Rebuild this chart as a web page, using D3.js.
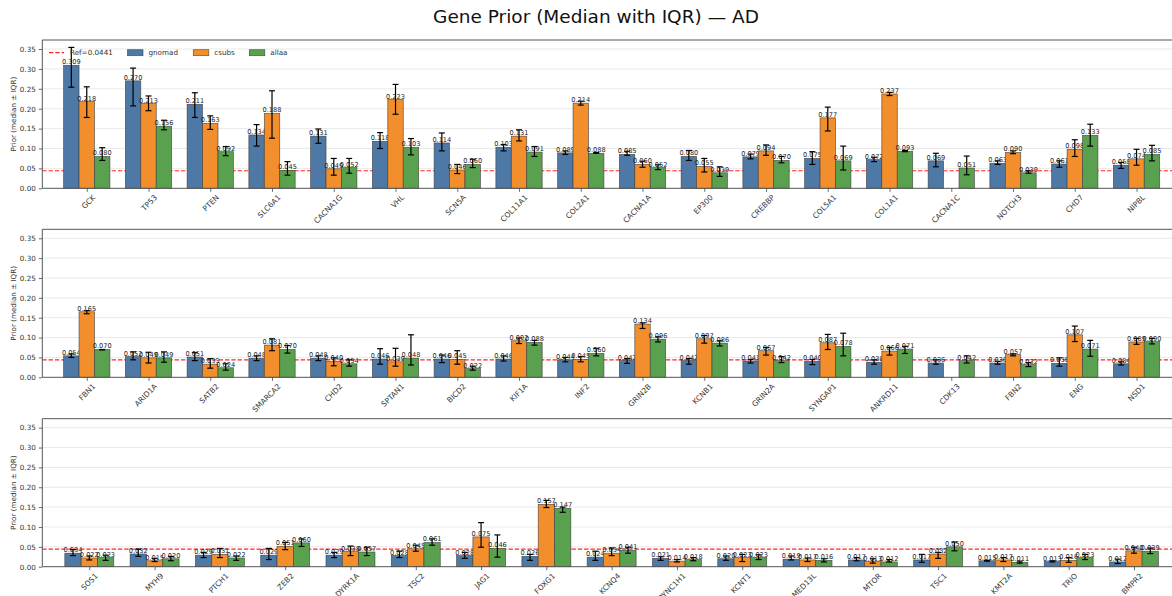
<!DOCTYPE html>
<html>
<head>
<meta charset="utf-8">
<script src="https://cdn.jsdelivr.net/npm/d3@7"></script>
<style>
  html, body { margin: 0; padding: 0; background: #fff; }
  svg { display: block; font-family: "DejaVu Sans", sans-serif; }
</style>
</head>
<body>
<svg id="chart" width="1172" height="596"></svg>
<script>
// Gene order per panel
const genesA = ["GCK","TP53","PTEN","SLC6A1","CACNA1G","VHL","SCN5A","COL11A1","COL2A1","CACNA1A","EP300","CREBBP","COL5A1","COL1A1","CACNA1C","NOTCH3","CHD7","NIPBL"];
const genesB = ["FBN1","ARID1A","SATB2","SMARCA2","CHD2","SPTAN1","BICD2","KIF1A","INF2","GRIN2B","KCNB1","GRIN2A","SYNGAP1","ANKRD11","CDK13","FBN2","ENG","NSD1"];
const genesC = ["SOS1","MYH9","PTCH1","ZEB2","DYRK1A","TSC2","JAG1","FOXG1","KCNQ4","DYNC1H1","KCNT1","MED13L","MTOR","TSC1","KMT2A","TRIO","BMPR2"];

const sources = ["gnomad", "csubs", "allaa"];
const refValue = 0.0441;
const yTicks = [0, 0.05, 0.10, 0.15, 0.20, 0.25, 0.30, 0.35];

// Medians per source, panel A
const gnomadA = [0.309,0.270,0.211,0.134,0.131,0.118,0.114,0.103,0.089,0.085,0.080,0.079,0.075,0.072,0.069,0.063,0.061,0.058];
const csubsA  = [0.218,0.213,0.163,0.188,0.049,0.223,0.046,0.131,0.214,0.060,0.055,0.094,0.177,0.237,null,0.090,0.098,0.074];
const allaaA  = [0.080,0.156,0.092,0.045,0.052,0.103,0.060,0.091,0.088,0.052,0.039,0.070,0.069,0.093,0.051,0.039,0.133,0.085];
// IQR bounds, panel A
const gnomadLoA = [0.254,0.207,0.178,0.106,0.113,0.100,0.094,0.094,0.085,0.083,0.070,0.074,0.060,0.067,0.054,0.060,0.053,0.050];
const gnomadHiA = [0.354,0.302,0.240,0.160,0.149,0.140,0.139,0.110,0.094,0.093,0.095,0.086,0.092,0.078,0.088,0.069,0.069,0.065];
const csubsLoA  = [0.178,0.195,0.148,0.126,0.033,0.186,0.037,0.119,0.209,0.053,0.041,0.083,0.144,0.233,null,0.087,0.080,0.058];
const csubsHiA  = [0.255,0.232,0.182,0.245,0.075,0.261,0.060,0.147,0.219,0.068,0.075,0.109,0.204,0.241,null,0.094,0.122,0.098];
const allaaLoA  = [0.070,0.147,0.082,0.033,0.038,0.084,0.052,0.080,0.088,0.047,0.030,0.064,0.046,0.092,0.034,0.038,0.106,0.069];
const allaaHiA  = [0.102,0.171,0.105,0.067,0.075,0.125,0.073,0.105,0.090,0.059,0.054,0.080,0.106,0.095,0.081,0.044,0.161,0.108];

// Panel B
const gnomadB = [0.054,0.052,0.051,0.048,0.048,0.046,0.046,0.046,0.044,0.042,0.042,0.041,0.040,0.038,0.036,0.036,0.035,0.034];
const csubsB  = [0.165,0.049,0.033,0.081,0.040,0.039,0.045,0.092,0.045,0.134,0.097,0.067,0.087,0.066,null,0.057,0.107,0.089];
const allaaB  = [0.070,0.049,0.024,0.070,0.034,0.048,0.022,0.088,0.060,0.096,0.086,0.042,0.078,0.071,0.042,0.032,0.071,0.090];
const gnomadLoB = [0.050,0.044,0.042,0.042,0.042,0.033,0.037,0.041,0.039,0.035,0.033,0.036,0.032,0.033,0.033,0.033,0.028,0.031];
const gnomadHiB = [0.059,0.064,0.062,0.054,0.054,0.072,0.056,0.054,0.050,0.047,0.047,0.045,0.045,0.044,0.044,0.040,0.049,0.039];
const csubsLoB  = [0.160,0.036,0.023,0.067,0.029,0.028,0.033,0.085,0.039,0.123,0.086,0.056,0.070,0.056,null,0.054,0.090,0.083];
const csubsHiB  = [0.168,0.063,0.047,0.097,0.049,0.073,0.067,0.099,0.052,0.137,0.105,0.075,0.108,0.075,null,0.059,0.129,0.098];
const allaaLoB  = [0.069,0.038,0.018,0.061,0.028,0.031,0.018,0.081,0.054,0.089,0.079,0.037,0.054,0.060,0.036,0.027,0.053,0.084];
const allaaHiB  = [0.070,0.064,0.034,0.080,0.044,0.107,0.028,0.093,0.073,0.102,0.092,0.052,0.111,0.078,0.054,0.037,0.093,0.098];

// Panel C
const gnomadC = [0.034,0.032,0.029,0.029,0.029,0.028,0.028,0.026,0.024,0.021,0.020,0.019,0.017,0.017,0.015,0.013,0.012];
const csubsC  = [0.022,0.015,0.031,0.051,0.038,0.045,0.075,0.157,0.034,0.014,0.023,0.017,0.013,0.032,0.017,0.016,0.040];
const allaaC  = [0.023,0.020,0.022,0.060,0.037,0.061,0.046,0.147,0.041,0.018,0.023,0.016,0.012,0.050,0.011,0.023,0.039];
const gnomadLoC = [0.028,0.026,0.023,0.018,0.023,0.023,0.021,0.016,0.016,0.016,0.016,0.017,0.015,0.011,0.014,0.012,0.008];
const gnomadHiC = [0.043,0.044,0.036,0.046,0.036,0.039,0.036,0.031,0.039,0.025,0.027,0.027,0.023,0.031,0.016,0.015,0.019];
const csubsLoC  = [0.017,0.013,0.023,0.043,0.028,0.039,0.049,0.149,0.028,0.012,0.013,0.013,0.009,0.021,0.013,0.011,0.034];
const csubsHiC  = [0.027,0.021,0.046,0.061,0.052,0.054,0.111,0.167,0.047,0.018,0.031,0.022,0.020,0.036,0.023,0.023,0.049];
const allaaLoC  = [0.016,0.015,0.016,0.051,0.028,0.054,0.024,0.137,0.034,0.015,0.018,0.012,0.012,0.040,0.009,0.018,0.033];
const allaaHiC  = [0.029,0.026,0.027,0.070,0.049,0.070,0.080,0.150,0.049,0.023,0.030,0.020,0.018,0.062,0.014,0.031,0.047];

const colors = { gnomad: "#4e79a7", csubs: "#f28e2b", allaa: "#59a14f" };

const panels = [
  { genes: genesA, top: 40.0, bottom: 188.3, showLegend: true,
    med: [gnomadA, csubsA, allaaA], lo: [gnomadLoA, csubsLoA, allaaLoA], hi: [gnomadHiA, csubsHiA, allaaHiA] },
  { genes: genesB, top: 229.3, bottom: 377.3, showLegend: false,
    med: [gnomadB, csubsB, allaaB], lo: [gnomadLoB, csubsLoB, allaaLoB], hi: [gnomadHiB, csubsHiB, allaaHiB] },
  { genes: genesC, top: 418.7, bottom: 566.7, showLegend: false,
    med: [gnomadC, csubsC, allaaC], lo: [gnomadLoC, csubsLoC, allaaLoC], hi: [gnomadHiC, csubsHiC, allaaHiC] }
];

const svg = d3.select("#chart");
const axLeft = 42.3, axRight = 1181;
const barW = 0.25;

svg.append("text")
  .attr("x", 596).attr("y", 23)
  .attr("text-anchor", "middle")
  .attr("font-size", 18.5)
  .attr("fill", "#111")
  .text("Gene Prior (Median with IQR) \u2014 AD");

panels.forEach(p => {
  const n = p.genes.length;
  const x = d3.scaleLinear().domain([-0.72, n - 0.28]).range([axLeft, axRight]);
  const y = d3.scaleLinear().domain([0, 0.3726]).range([p.bottom, p.top]);
  const g = svg.append("g");

  // horizontal grid
  g.append("g").selectAll("line").data(yTicks.slice(1)).join("line")
    .attr("x1", axLeft).attr("x2", axRight)
    .attr("y1", d => y(d)).attr("y2", d => y(d))
    .attr("stroke", "#e3e3e3").attr("stroke-width", 0.8);

  // reference line
  g.append("line")
    .attr("x1", axLeft).attr("x2", axRight)
    .attr("y1", y(refValue)).attr("y2", y(refValue))
    .attr("stroke", "red").attr("stroke-opacity", 0.85)
    .attr("stroke-width", 1.2).attr("stroke-dasharray", "4.4,1.9");

  // bars, error bars, value labels
  sources.forEach((s, k) => {
    const rows = p.genes.map((gene, i) => ({
      i, gene, v: p.med[k][i], lo: p.lo[k][i], hi: p.hi[k][i]
    })).filter(d => d.v !== null);
    const off = (k - 1) * barW;
    const cx = d => x(d.i + off);
    const bw = x(barW) - x(0);

    g.append("g").selectAll("rect").data(rows).join("rect")
      .attr("x", d => cx(d) - bw / 2)
      .attr("width", bw)
      .attr("y", d => y(d.v))
      .attr("height", d => y(0) - y(d.v))
      .attr("fill", colors[s])
      .attr("stroke", "#3a3a3a").attr("stroke-opacity", 0.8)
      .attr("stroke-width", 0.7);

    const eb = g.append("g").attr("stroke", "#000").attr("stroke-width", 1.2);
    eb.selectAll("line.v").data(rows).join("line").attr("class", "v")
      .attr("x1", cx).attr("x2", cx)
      .attr("y1", d => y(d.lo)).attr("y2", d => y(d.hi));
    eb.selectAll("line.t").data(rows).join("line").attr("class", "t")
      .attr("x1", d => cx(d) - 3).attr("x2", d => cx(d) + 3)
      .attr("y1", d => y(d.hi)).attr("y2", d => y(d.hi));
    eb.selectAll("line.b").data(rows).join("line").attr("class", "b")
      .attr("x1", d => cx(d) - 3).attr("x2", d => cx(d) + 3)
      .attr("y1", d => y(d.lo)).attr("y2", d => y(d.lo));

    g.append("g").selectAll("text").data(rows).join("text")
      .attr("x", cx)
      .attr("y", d => y(d.v) - 1)
      .attr("text-anchor", "middle")
      .attr("font-size", 6.6)
      .attr("fill", "#222")
      .text(d => d.v.toFixed(3));
  });

  // y axis
  const yAxis = g.append("g").attr("transform", `translate(${axLeft},0)`)
    .call(d3.axisLeft(y).tickValues(yTicks).tickFormat(d3.format(".2f")).tickSize(3.5).tickPadding(3));
  yAxis.select(".domain").remove();
  yAxis.selectAll("line").attr("stroke", "#444").attr("stroke-width", 0.8);
  yAxis.selectAll("text").attr("font-size", 7.2).attr("fill", "#333").attr("font-family", "DejaVu Sans");

  // x axis with rotated gene names
  const xAxis = g.append("g").attr("transform", `translate(0,${p.bottom})`)
    .call(d3.axisBottom(x).tickValues(d3.range(n)).tickFormat(i => p.genes[i]).tickSize(3.5));
  xAxis.select(".domain").remove();
  xAxis.selectAll("line").attr("stroke", "#444").attr("stroke-width", 0.8);
  xAxis.selectAll("text")
    .attr("font-size", 7.5).attr("fill", "#333").attr("font-family", "DejaVu Sans")
    .attr("text-anchor", "end")
    .attr("transform", "translate(4,5) rotate(-45)")
    .attr("dy", "0.35em").attr("y", 4).attr("x", 0);

  // frame: left, top, bottom spines
  g.append("path")
    .attr("d", `M${axRight},${p.top}H${axLeft}V${p.bottom}H${axRight}`)
    .attr("fill", "none").attr("stroke", "#555").attr("stroke-width", 1);

  // y axis title
  g.append("text")
    .attr("transform", `translate(16,${(p.top + p.bottom) / 2}) rotate(-90)`)
    .attr("text-anchor", "middle")
    .attr("font-size", 7.2).attr("fill", "#333")
    .text("Prior (median \u00b1 IQR)");

  if (p.showLegend) {
    const ly = 52.7;
    const lg = g.append("g");
    lg.append("line")
      .attr("x1", 49).attr("x2", 64).attr("y1", ly).attr("y2", ly)
      .attr("stroke", "red").attr("stroke-opacity", 0.85)
      .attr("stroke-width", 1.2).attr("stroke-dasharray", "4.4,1.9");
    lg.append("text").attr("x", 70).attr("y", ly).attr("dy", "0.35em")
      .attr("font-size", 7.2).attr("fill", "#333").text("Ref=" + refValue);
    const items = [
      { s: "gnomad", px: 127.5 },
      { s: "csubs", px: 193.3 },
      { s: "allaa", px: 249.3 }
    ];
    items.forEach(it => {
      lg.append("rect")
        .attr("x", it.px).attr("y", ly - 3).attr("width", 15.5).attr("height", 6)
        .attr("fill", colors[it.s]).attr("stroke", "#3a3a3a").attr("stroke-opacity", 0.8).attr("stroke-width", 0.7);
      lg.append("text").attr("x", it.px + 21).attr("y", ly).attr("dy", "0.35em")
        .attr("font-size", 7.2).attr("fill", "#333").text(it.s);
    });
  }
});
</script>
</body>
</html>
